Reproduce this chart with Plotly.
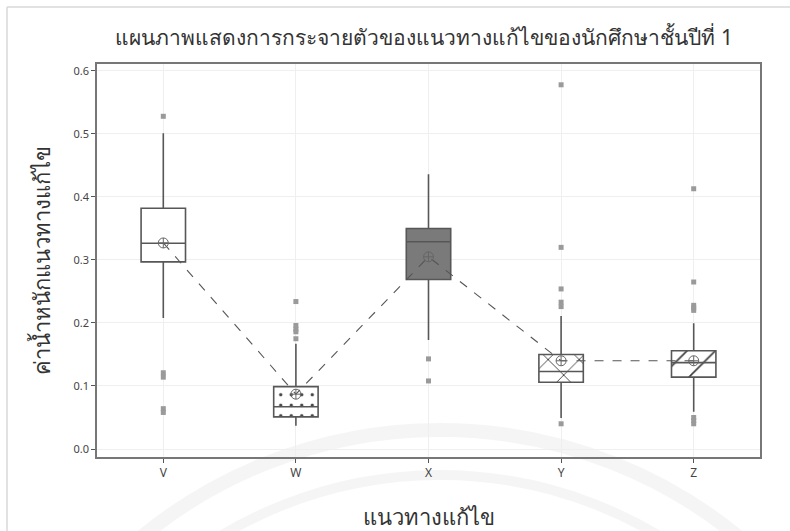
import plotly.graph_objects as go

# Solution approaches and their five-number summaries
categories = ["V", "W", "X", "Y", "Z"]
q1 = [0.297, 0.051, 0.269, 0.106, 0.114]
median = [0.3265, 0.067, 0.329, 0.123, 0.137]
q3 = [0.382, 0.099, 0.350, 0.150, 0.156]
lower_whisker = [0.208, 0.037, 0.173, 0.049, 0.059]
upper_whisker = [0.501, 0.167, 0.436, 0.211, 0.1995]
means = [0.327, 0.087, 0.305, 0.140, 0.140]

# Outlying observations per approach
outliers = {
    "V": [0.528, 0.121, 0.114, 0.064, 0.058],
    "W": [0.234, 0.196, 0.190, 0.186, 0.175],
    "X": [0.143, 0.108],
    "Y": [0.578, 0.320, 0.254, 0.233, 0.226, 0.040],
    "Z": [0.413, 0.265, 0.228, 0.224, 0.220, 0.050, 0.045, 0.040],
}

# Box fill style per approach
box_fill = {
    "V": dict(color="white"),
    "W": dict(color="white", pattern=dict(shape=".", size=10.5, solidity=0.08,
                                          fgcolor="#444444", fgopacity=1,
                                          bgcolor="white")),
    "X": dict(color="#7a7a7a"),
    "Y": dict(color="white", pattern=dict(shape="x", size=22, solidity=0.08,
                                          fgcolor="#3a3a3a", fgopacity=1,
                                          bgcolor="white")),
    "Z": dict(color="white", pattern=dict(shape="/", size=20, solidity=0.08,
                                          fgcolor="#3a3a3a", fgopacity=1,
                                          bgcolor="white")),
}

title_text = "แผนภาพแสดงการกระจายตัวของแนวทางแก้ไขของนักศึกษาชั้นปีที่ 1"
x_title = "แนวทางแก้ไข"
y_title = "ค่าน้ำหนักแนวทางแก้ไข"

LINE = "#575757"
BOX_W = 0.335
FONT = "Noto Sans, DejaVu Sans, sans-serif"

fig = go.Figure()

# Patterned box bodies
for i, c in enumerate(categories):
    fig.add_trace(go.Bar(
        x=[c], y=[q3[i] - q1[i]], base=[q1[i]], width=BOX_W,
        marker=dict(line=dict(width=0), **box_fill[c]),
        showlegend=False, hoverinfo="skip",
    ))

# Box outlines, medians and whiskers
for i, c in enumerate(categories):
    fig.add_trace(go.Box(
        x=[c], q1=[q1[i]], median=[median[i]], q3=[q3[i]],
        lowerfence=[lower_whisker[i]], upperfence=[upper_whisker[i]],
        width=BOX_W, whiskerwidth=0, boxpoints=False,
        fillcolor="rgba(0,0,0,0)", line=dict(color=LINE, width=1.6),
        showlegend=False,
    ))

# Outlier points
ox, oy = [], []
for c in categories:
    for v in outliers[c]:
        ox.append(c)
        oy.append(v)
fig.add_trace(go.Scatter(
    x=ox, y=oy, mode="markers",
    marker=dict(symbol="square", size=5, color="#9a9a9a"),
    showlegend=False,
))

# Means joined by a dashed line
fig.add_trace(go.Scatter(
    x=categories, y=means, mode="lines+markers",
    line=dict(color="#555555", width=1.1, dash="dash"),
    marker=dict(symbol="circle-cross-open", size=10, color="#666666",
                line=dict(width=1)),
    showlegend=False,
))

# Faint emblem rings in the background
def ring(cx, cy, r, width):
    px_w, px_h = 663.0, 393.0
    x0p, y0p = 97.0, 64.0
    return dict(
        type="circle", xref="paper", yref="paper", layer="below",
        x0=(cx - r - x0p) / px_w, x1=(cx + r - x0p) / px_w,
        y0=1 - (cy + r - y0p) / px_h, y1=1 - (cy - r - y0p) / px_h,
        line=dict(color="rgba(0,0,0,0.04)", width=width),
    )

shapes = [ring(440, 900, 470, 14), ring(440, 900, 425, 10)]
# Thin frame at the top-left edge of the page
shapes.append(dict(type="line", xref="paper", yref="paper",
                   x0=(7 - 97) / 663.0, x1=1.2, y0=1 + (64 - 7) / 393.0,
                   y1=1 + (64 - 7) / 393.0,
                   line=dict(color="#d8d8d8", width=1.5)))
shapes.append(dict(type="line", xref="paper", yref="paper",
                   x0=(7 - 97) / 663.0, x1=(7 - 97) / 663.0,
                   y0=-0.3, y1=1 + (64 - 7) / 393.0,
                   line=dict(color="#d8d8d8", width=1.5)))

fig.update_layout(
    width=790, height=531,
    margin=dict(l=97, r=30, t=64, b=74),
    paper_bgcolor="white", plot_bgcolor="rgba(0,0,0,0)",
    barmode="overlay", boxmode="overlay",
    font=dict(family=FONT, color="#333333"),
    title=dict(text=title_text, x=0.537, xanchor="center", y=0.93,
               yanchor="middle", font=dict(size=21, color="#333333")),
    shapes=shapes,
    xaxis=dict(
        type="category", categoryorder="array", categoryarray=categories,
        range=[-0.5, 4.5], showgrid=True, gridcolor="#efefef", gridwidth=1,
        ticks="outside", ticklen=4, tickcolor="#555555",
        tickfont=dict(size=12, color="#444444"),
        showline=True, linecolor="#777777", linewidth=1.5, mirror=True,
        title=dict(text=x_title, font=dict(size=22, color="#333333"),
                   standoff=29),
        zeroline=False, automargin=False,
    ),
    yaxis=dict(
        range=[-0.0127, 0.611], tickvals=[0, 0.1, 0.2, 0.3, 0.4, 0.5, 0.6],
        tickformat=".1f", showgrid=True, gridcolor="#efefef", gridwidth=1,
        ticks="outside", ticklen=4, tickcolor="#555555",
        tickfont=dict(size=11, color="#444444"),
        showline=True, linecolor="#777777", linewidth=1.5, mirror=True,
        title=dict(text=y_title, font=dict(size=22, color="#333333"),
                   standoff=17),
        zeroline=False, automargin=False,
    ),
)

fig.write_html("out.html")
